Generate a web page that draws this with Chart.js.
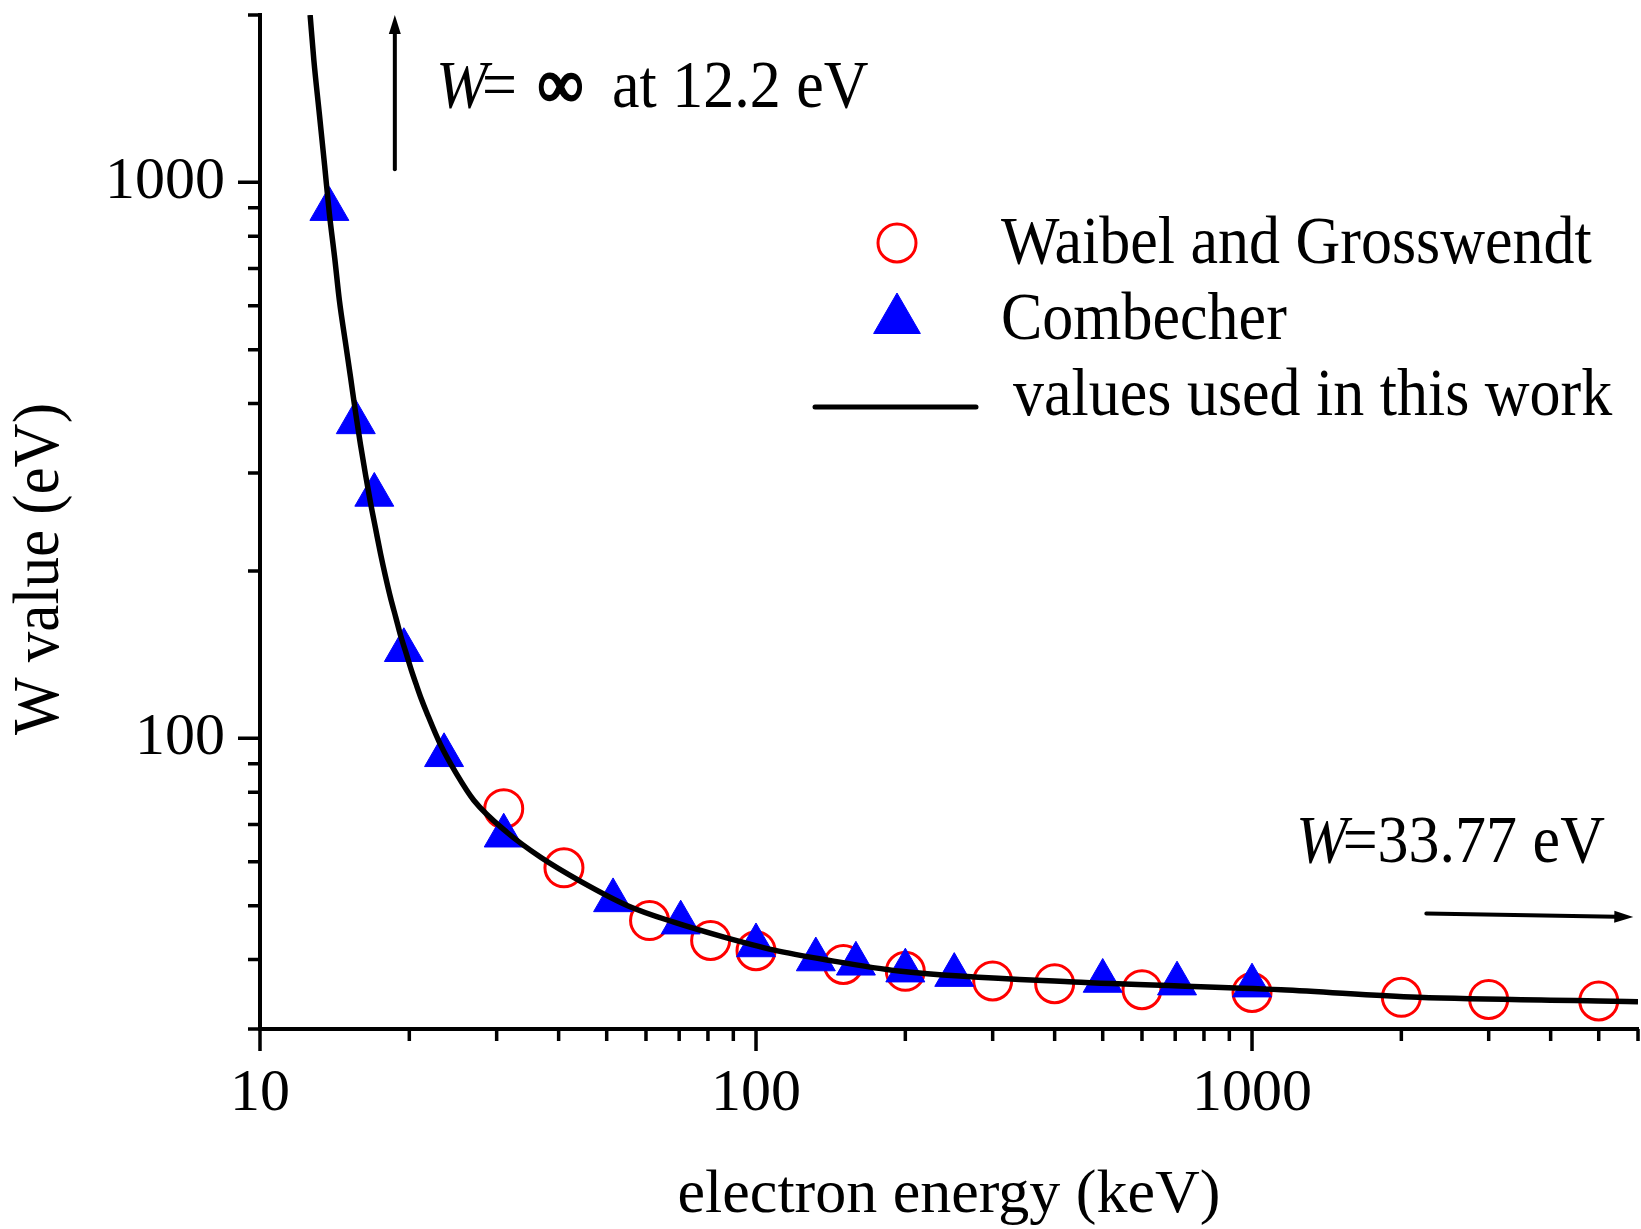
<!DOCTYPE html>
<html>
<head>
<meta charset="utf-8">
<script src="https://cdn.jsdelivr.net/npm/chart.js@4.4.1/dist/chart.umd.min.js"></script>
<style>
  html, body { margin: 0; padding: 0; background: #fff; }
  #wrap { width: 1641px; height: 1229px; }
</style>
</head>
<body>
<div id="wrap"><canvas id="chart" width="1641" height="1229"></canvas></div>
<script>
// Waibel and Grosswendt (open circles)
const waibelEnergy = [31, 41, 61, 81, 100, 150, 200, 300, 400, 600, 1000, 2000, 3000, 5000];
const waibelW = [74.7, 58.5, 47.0, 43.3, 41.5, 39.2, 38.1, 36.6, 36.2, 35.3, 34.9, 34.2, 33.9, 33.7];

// Combecher (filled triangles)
const combecherEnergy = [13.8, 15.6, 17.0, 19.5, 23.5, 31, 51.5, 70.5, 100, 132, 159, 200, 251, 500, 706, 1000];
const combecherW = [895, 370, 274, 144, 93.2, 66.8, 51.1, 46.6, 42.4, 40.0, 39.3, 38.2, 37.5, 36.6, 36.2, 35.9];

// values used in this work (solid curve)
const fitEnergy = [12.62, 12.84, 13.18, 13.5, 13.8, 14.15, 14.46, 14.85, 15.22, 15.58, 15.94, 16.32, 16.7,
                   17.1, 17.5, 17.9, 18.33, 18.79, 19.22, 19.72, 20.18, 20.65, 21.14, 21.67, 23.1, 24.9,
                   27.0, 31.5, 36.8, 44.3, 55.1, 68.3, 86.2, 108.8, 137.3, 196, 452, 1145, 2161, 4987, 6000];
const fitW = [2000, 1659, 1321, 1071, 878, 729, 612, 519, 447, 386, 338, 298, 265.5,
              238.4, 214.8, 195.8, 179, 164.8, 152.7, 142, 132.8, 125, 117.8, 111.4, 97.5, 86.3,
              77.3, 67.7, 61.1, 55.3, 50.0, 46.7, 43.9, 41.6, 40.0, 38.1, 36.4, 35.3, 34.2, 33.7, 33.6];

const xTickLabels = ['10', '100', '1000'];
const yTickLabels = ['100', '1000'];

const serif = "'Liberation Serif', 'Times New Roman', serif";

function logTicks(min, max) {
  const out = [];
  for (let d = 1; d <= max; d *= 10) {
    for (let m = 1; m < 10; m++) {
      const v = m * d;
      if (v >= min && v <= max) out.push(v);
    }
  }
  return out;
}

function pts(xs, ys) {
  return xs.map((x, i) => ({ x: x, y: ys[i] }));
}

function arrow(ctx, x1, y1, x2, y2) {
  const a = Math.atan2(y2 - y1, x2 - x1);
  const len = 19, half = 6;
  ctx.lineWidth = 4;
  ctx.lineCap = 'round';
  ctx.beginPath();
  ctx.moveTo(x1, y1);
  ctx.lineTo(x2 - Math.cos(a) * (len - 2), y2 - Math.sin(a) * (len - 2));
  ctx.stroke();
  ctx.beginPath();
  ctx.moveTo(x2, y2);
  ctx.lineTo(x2 - Math.cos(a) * len - Math.sin(a) * half, y2 - Math.sin(a) * len + Math.cos(a) * half);
  ctx.lineTo(x2 - Math.cos(a) * len + Math.sin(a) * half, y2 - Math.sin(a) * len - Math.cos(a) * half);
  ctx.closePath();
  ctx.fill();
}

// text slightly taller than the stock face, like the original
function tallText(ctx, txt, x, y, font) {
  ctx.save();
  ctx.font = font;
  ctx.translate(x, y);
  ctx.scale(1, 1.08);
  ctx.fillText(txt, 0, 0);
  const w = ctx.measureText(txt).width;
  ctx.restore();
  return w;
}

// outward tick marks, longer at the decades
const tickMarks = {
  id: 'tickMarks',
  afterDraw(chart) {
    const ctx = chart.ctx, area = chart.chartArea;
    const xs = chart.scales.x, ys = chart.scales.y;
    ctx.save();
    ctx.strokeStyle = '#000';
    ctx.lineWidth = 3.5;
    ctx.beginPath();
    xs.ticks.forEach(t => {
      const p = xs.getPixelForValue(t.value);
      const major = Math.abs(Math.log10(t.value) % 1) < 1e-9;
      ctx.moveTo(p, area.bottom);
      ctx.lineTo(p, area.bottom + (major ? 22 : 12));
    });
    ys.ticks.forEach(t => {
      const p = ys.getPixelForValue(t.value);
      const major = Math.abs(Math.log10(t.value) % 1) < 1e-9;
      ctx.moveTo(area.left, p);
      ctx.lineTo(area.left - (major ? 22 : 12), p);
    });
    ctx.stroke();
    ctx.restore();
  }
};

// y title, legend and the two notes with arrows
const notes = {
  id: 'notes',
  afterDraw(chart) {
    const ctx = chart.ctx;
    const xs = chart.scales.x, ys = chart.scales.y;
    const ds = chart.data.datasets;
    const big = '62px ' + serif;
    ctx.save();
    ctx.fillStyle = '#000';
    ctx.strokeStyle = '#000';
    ctx.textBaseline = 'alphabetic';
    ctx.textAlign = 'left';

    // y axis title
    ctx.save();
    ctx.translate(58, 569);
    ctx.rotate(-Math.PI / 2);
    ctx.textAlign = 'center';
    ctx.scale(1, 1.08);
    ctx.font = '61px ' + serif;
    ctx.fillText('W value (eV)', 0, 0);
    ctx.restore();

    // legend
    const circ = ds[2], tri = ds[1], fit = ds[0];
    ctx.fillStyle = 'rgba(0,0,0,0)';
    ctx.strokeStyle = circ.borderColor;
    ctx.lineWidth = circ.borderWidth;
    Chart.helpers.drawPoint(ctx, { pointStyle: 'circle', radius: circ.pointRadius, borderWidth: circ.borderWidth, rotation: 0 }, 897, 243);
    ctx.fillStyle = tri.backgroundColor;
    ctx.strokeStyle = tri.borderColor;
    ctx.lineWidth = 1;
    Chart.helpers.drawPoint(ctx, { pointStyle: 'triangle', radius: 27, borderWidth: 1, rotation: 0 }, 897, 320);
    ctx.strokeStyle = fit.borderColor;
    ctx.lineWidth = 5;
    ctx.lineCap = 'round';
    ctx.beginPath();
    ctx.moveTo(815, 407);
    ctx.lineTo(976, 407);
    ctx.stroke();

    ctx.fillStyle = '#000';
    tallText(ctx, circ.label, 1001, 263, big);
    tallText(ctx, tri.label, 1001, 339, big);
    tallText(ctx, fit.label, 1013, 415, big);

    // W = infinity note
    ctx.strokeStyle = '#000';
    arrow(ctx, xs.getPixelForValue(18.7), ys.getPixelForValue(1056), xs.getPixelForValue(18.7), ys.getPixelForValue(2000));
    tallText(ctx, 'W', 436, 107, 'italic ' + big);
    tallText(ctx, '=', 482, 107, big);
    ctx.save();
    ctx.font = 'italic bold 64px ' + serif;
    ctx.lineWidth = 2.5;
    ctx.translate(537, 107);
    ctx.scale(1, 1.08);
    ctx.fillText('\u221E', 0, 0);
    ctx.strokeText('\u221E', 0, 0);
    ctx.restore();
    tallText(ctx, 'at 12.2 eV', 612, 107, big);

    // W = 33.77 eV note
    const wW = tallText(ctx, 'W', 1296, 862, 'italic ' + big);
    tallText(ctx, '=33.77 eV', 1296 + wW - 5, 862, big);
    arrow(ctx, xs.getPixelForValue(2246), ys.getPixelForValue(48.4), xs.getPixelForValue(5870), ys.getPixelForValue(47.7));
    ctx.restore();
  }
};

new Chart(document.getElementById('chart'), {
  type: 'scatter',
  data: {
    datasets: [
      {
        label: 'values used in this work',
        data: pts(fitEnergy, fitW),
        showLine: true,
        pointRadius: 0,
        borderColor: '#000000',
        borderWidth: 5.5,
        cubicInterpolationMode: 'monotone'
      },
      {
        label: 'Combecher',
        data: pts(combecherEnergy, combecherW),
        pointStyle: 'triangle',
        pointRadius: 22.5,
        backgroundColor: '#0000ff',
        borderColor: '#0000ff',
        borderWidth: 1
      },
      {
        label: 'Waibel and Grosswendt',
        data: pts(waibelEnergy, waibelW),
        pointStyle: 'circle',
        pointRadius: 19,
        backgroundColor: 'rgba(0,0,0,0)',
        borderColor: '#ff0000',
        borderWidth: 3
      }
    ]
  },
  options: {
    responsive: false,
    animation: false,
    layout: { autoPadding: false, padding: { top: 15, right: 3, left: 0, bottom: 0 } },
    plugins: {
      legend: { display: false },
      tooltip: { enabled: false }
    },
    scales: {
      x: {
        type: 'logarithmic',
        min: 10,
        max: 6000,
        grid: { display: true, drawOnChartArea: false, drawTicks: false },
        border: { display: true, color: '#000', width: 4 },
        ticks: {
          autoSkip: false,
          maxRotation: 0,
          padding: 29,
          color: '#000',
          font: { family: serif, size: 60 },
          callback: v => xTickLabels.includes(String(v)) ? String(v) : ''
        },
        afterBuildTicks: s => { s.ticks = logTicks(10, 6000).map(v => ({ value: v })); },
        afterFit: s => { s.height = 200; s.paddingLeft = 0; s.paddingRight = 0; },
        title: {
          display: true,
          text: 'electron energy (keV)',
          color: '#000',
          font: { family: serif, size: 62, lineHeight: 1.0 },
          padding: { top: 0, bottom: 2 }
        }
      },
      y: {
        type: 'logarithmic',
        min: 30,
        max: 2000,
        grid: { display: true, drawOnChartArea: false, drawTicks: false },
        border: { display: true, color: '#000', width: 4 },
        ticks: {
          autoSkip: false,
          padding: 35,
          color: '#000',
          font: { family: serif, size: 60 },
          callback: v => yTickLabels.includes(String(v)) ? String(v) : ''
        },
        afterBuildTicks: s => { s.ticks = logTicks(30, 2000).map(v => ({ value: v })); },
        afterFit: s => { s.width = 260; s.paddingTop = 0; s.paddingBottom = 0; }
      }
    }
  },
  plugins: [tickMarks, notes]
});
</script>
</body>
</html>
